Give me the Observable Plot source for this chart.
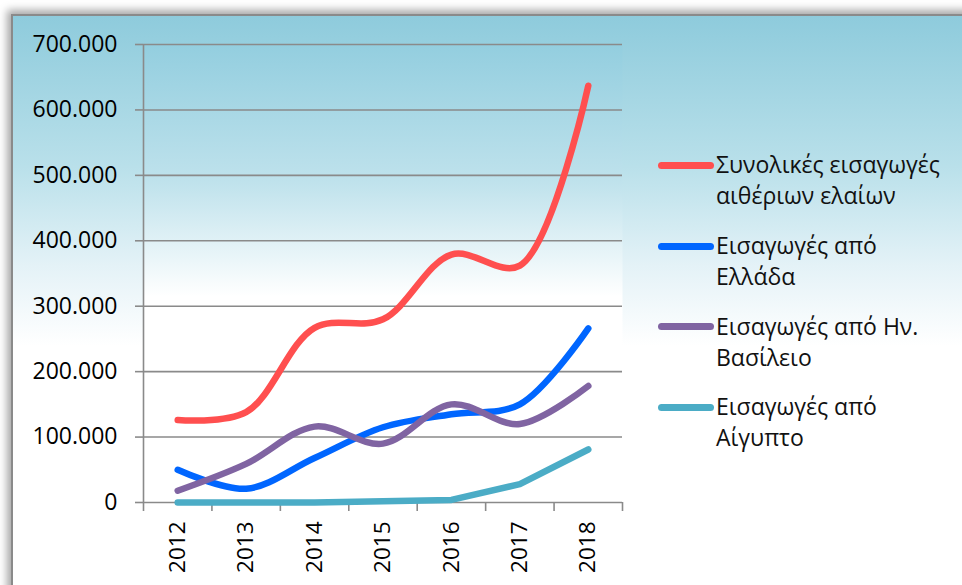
<!DOCTYPE html>
<html><head><meta charset="utf-8">
<script src="https://cdn.jsdelivr.net/npm/d3@7"></script>
<script src="https://cdn.jsdelivr.net/npm/@observablehq/plot@0.6"></script>
<style>
html,body{margin:0;padding:0;background:#fff;}
#wrap{position:relative;width:962px;height:585px;overflow:hidden;font-family:"Open Sans",sans-serif;}
#frame{position:absolute;left:11px;top:14px;width:990px;height:620px;border:2px solid #8a8a8a;box-sizing:border-box;
  background:linear-gradient(to bottom,#8ecbdc 0px,#b9e0ea 150px,#e4f2f7 250px,#ffffff 330px,#ffffff 100%);
  box-shadow:-4px -4px 8px rgba(0,0,0,0.35);}
#chart{position:absolute;left:0;top:0;}
#legend{position:absolute;left:0;top:0;width:962px;height:585px;pointer-events:none;}
.mk{position:absolute;height:7px;border-radius:3.5px;}
.tx{position:absolute;font-size:23px;line-height:31px;color:#111;white-space:nowrap;}
</style></head>
<body><div id="wrap"><div id="frame"></div><div id="chart"></div><div id="legend"></div></div>
<script>
const years = [2012, 2013, 2014, 2015, 2016, 2017, 2018];
const total  = [126000, 138000, 267000, 280000, 379000, 362000, 637000];
const greece = [50000, 21000, 68000, 115000, 135000, 150000, 266000];
const uk     = [18000, 59000, 116000, 90000, 150000, 120000, 178000];
const egypt  = [0, 0, 0, 2000, 4000, 28000, 81000];
const seriesNames = ["Συνολικές εισαγωγές αιθέριων ελαίων", "Εισαγωγές από Ελλάδα", "Εισαγωγές από Ην. Βασίλειο", "Εισαγωγές από Αίγυπτο"];
const legendLines = [["Συνολικές εισαγωγές", "αιθέριων ελαίων"], ["Εισαγωγές από", "Ελλάδα"], ["Εισαγωγές από Ην.", "Βασίλειο"], ["Εισαγωγές από", "Αίγυπτο"]];
const seriesColors = ["#FF4F4F", "#0066FF", "#8064A2", "#4BACC6"];
const seriesCurves = ["catmull-rom", "catmull-rom", "catmull-rom", "linear"];
const yTicks = [0, 100000, 200000, 300000, 400000, 500000, 600000, 700000];

const seriesValues = [total, greece, uk, egypt];
const rows = seriesValues.map((vals, s) => years.map((yr, i) => ({year: yr, value: vals[i], series: seriesNames[s]})));
const boundaries = years.map(y => y - 0.5).concat([years[years.length - 1] + 0.5]);
const fmt = d3.formatLocale({decimal: ",", thousands: ".", grouping: [3], currency: ["", "€"]}).format(",d");
const grid = "#8a8a8a";

const plot = Plot.plot({
  width: 962, height: 585,
  marginLeft: 143, marginRight: 340, marginTop: 44, marginBottom: 83,
  style: {background: "transparent", fontFamily: "Open Sans, sans-serif", overflow: "visible"},
  x: {domain: [years[0] - 0.5, years[years.length - 1] + 0.5], axis: null, label: null},
  y: {domain: [0, 700000], axis: null, label: null},
  marks: [
    Plot.frame({fill: "url(#plotGrad)", stroke: "none"}),
    Plot.gridY(yTicks, {stroke: grid, strokeOpacity: 1, strokeWidth: 1.6}),
    Plot.axisY(yTicks, {label: null, tickSize: 8, tickPadding: 18, tickFormat: fmt, fontSize: 23, stroke: grid, strokeWidth: 1.6, fill: "#000"}),
    Plot.ruleX([boundaries[0]], {y1: 0, y2: 700000, stroke: grid, strokeWidth: 1.6}),
    Plot.axisX(boundaries, {label: null, tickSize: 9, tickFormat: () => "", stroke: grid, strokeWidth: 1.6}),
    Plot.axisX(years, {label: null, tickSize: 0, tickPadding: 19, tickRotate: -90, tickFormat: d => String(d), fontSize: 22.5, fill: "#000"}),
    ...rows.map((r, s) => Plot.line(r, {x: "year", y: "value", stroke: seriesColors[s], strokeWidth: 6.5, curve: seriesCurves[s], strokeLinecap: "round", strokeLinejoin: "round"}))
  ]
});

const ns = "http://www.w3.org/2000/svg";
const defs = document.createElementNS(ns, "defs");
const lg = document.createElementNS(ns, "linearGradient");
lg.setAttribute("id", "plotGrad");
lg.setAttribute("x1", "0"); lg.setAttribute("y1", "0"); lg.setAttribute("x2", "0"); lg.setAttribute("y2", "1");
[["0", "#93cedf"], ["0.3", "#bfe2ec"], ["0.55", "#ffffff"], ["1", "#ffffff"]].forEach(([o, c]) => {
  const st = document.createElementNS(ns, "stop");
  st.setAttribute("offset", o); st.setAttribute("stop-color", c);
  lg.appendChild(st);
});
defs.appendChild(lg);
plot.insertBefore(defs, plot.firstChild);
document.getElementById("chart").appendChild(plot);

const leg = document.getElementById("legend");
const legendY = [165, 246, 326.5, 407];
legendLines.forEach((lines, s) => {
  const mk = document.createElement("div");
  mk.className = "mk";
  mk.style.left = "658px"; mk.style.width = "56px";
  mk.style.top = (legendY[s] - 3.5) + "px";
  mk.style.background = seriesColors[s];
  leg.appendChild(mk);
  const tx = document.createElement("div");
  tx.className = "tx";
  tx.style.left = "716px";
  tx.style.top = (legendY[s] - 16) + "px";
  tx.innerHTML = lines.join("<br>");
  leg.appendChild(tx);
});
</script></body></html>
